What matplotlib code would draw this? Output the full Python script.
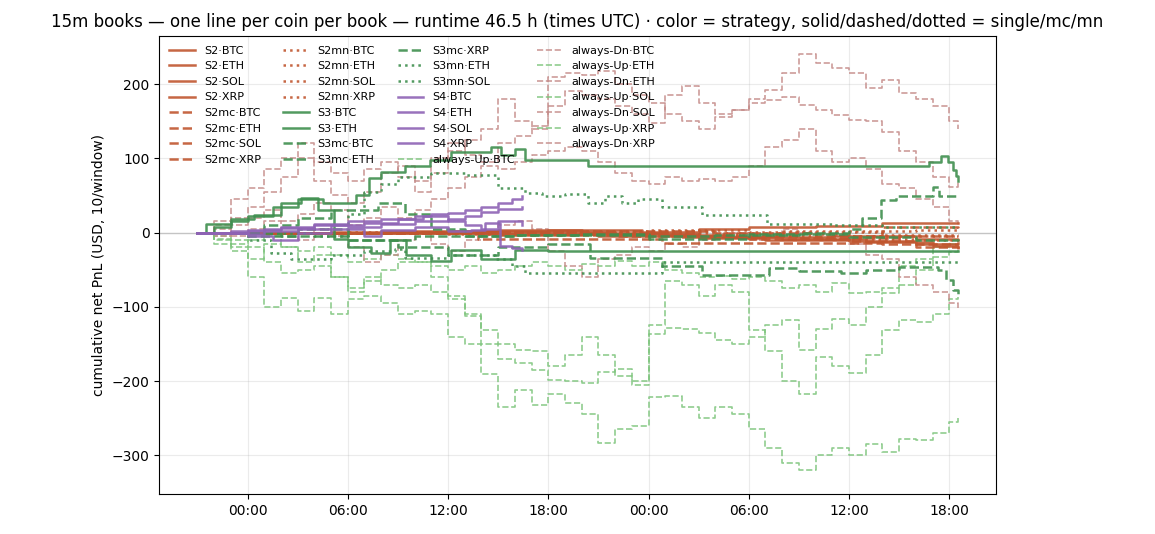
import matplotlib
matplotlib.use("Agg")
import matplotlib.pyplot as plt
import matplotlib.dates as mdates
import pandas as pd

# hours are counted from the first midnight shown on the axis
t0 = pd.Timestamp("2024-05-14 00:00")

# ---- always-Up / always-Dn books, read roughly once per hour ----
hrs = list(range(-3, 43)) + [42.5]

up_btc = [0, -10, -25, -60, -100, -88, -105, -88, -110, -90,
          -85, -95, -110, -105, -110, -140, -150, -190, -235, -212,
          -232, -218, -230, -245, -284, -265, -260, -222, -220, -235,
          -250, -235, -245, -265, -290, -310, -320, -300, -290, -300,
          -285, -295, -278, -280, -270, -255, -247]
dn_btc = [0, 15, 45, 60, 85, 100, 120, 95, 80, 70,
          85, 95, 75, 55, 80, 110, 125, 140, 180, 150,
          140, 210, 215, 212, 217, 200, 185, 175, 160, 150,
          140, 155, 165, 180, 192, 215, 240, 228, 222, 215,
          195, 205, 188, 180, 170, 150, 139]
up_eth = [0, -5, -20, -35, -15, -20, -40, -30, -60, -80,
          -65, -50, -40, -40, -60, -85, -110, -150, -170, -175,
          -185, -198, -200, -203, -188, -184, -200, -125, -65, -70,
          -85, -70, -80, -131, -160, -200, -218, -167, -180, -189,
          -165, -131, -118, -120, -110, -90, -87]
dn_eth = [0, 5, 20, 35, 55, 75, 100, 70, 50, 40,
          55, 80, 90, 70, 100, 120, 105, 95, 120, 130,
          143, 170, 190, 185, 180, 170, 160, 148, 185, 198,
          175, 160, 165, 175, 178, 183, 172, 165, 158, 152,
          150, 135, 110, 95, 75, 62, 71]
up_sol = [0, -15, -10, -20, -40, -55, -50, -45, -60, -75,
          -60, -70, -75, -70, -80, -90, -113, -131, -150, -158,
          -160, -180, -165, -140, -165, -193, -205, -136, -128, -130,
          -135, -145, -150, -140, -125, -118, -158, -130, -116, -125,
          -100, -82, -70, -50, -33, -26, -24]
dn_sol = [0, -5, 10, 20, 30, 15, 25, 40, 30, 10,
          20, 35, 20, 30, 45, 60, 75, 90, 85, 95,
          105, 110, 115, 110, 95, 80, 70, 65, 75, 70,
          72, 70, 75, 90, 115, 125, 139, 110, 95, 100,
          85, 65, 60, 45, 35, 15, 5]
up_xrp = [0, -8, -15, -10, -5, -20, -25, -20, -30, -40,
          -35, -30, -35, -40, -45, -50, -45, -55, -50, -45,
          -40, -45, -50, -42, -45, -38, -45, -40, -50, -55,
          -60, -58, -62, -60, -65, -75, -70, -80, -68, -82,
          -80, -75, -45, -35, -20, -15, -17]
dn_xrp = [0, 10, -5, 5, 15, 0, -10, 5, -5, -20,
          -40, -30, -10, 0, -15, -25, -10, 0, 10, 15,
          5, -25, -45, -60, -35, -30, -20, -25, -15, -20,
          -10, -5, 0, -10, -5, 5, 0, -10, -5, -15,
          -30, -35, -60, -70, -80, -95, -102]

# ---- strategy books: (hour, cumulative PnL) at each change ----
S2_BTC = [(-3, 0), (5, 1), (12, 2), (18, 3), (23.6, 1), (27, 5), (30, 7), (34, 9), (38, 13), (42.5, 13)]
S2_ETH = [(-3, 0), (10, -1), (16, 1), (22, -2), (27, -7), (31, -10), (36, -12), (40, -15), (42.5, -14)]
S2_SOL = [(-3, 0), (8, 2), (15, 3), (20, 0), (25, -3), (29, -6), (35, -5), (40, -8), (42.5, -10)]
S2_XRP = [(-3, 0), (6, -1), (14, -2), (21, -4), (26, -6), (32, -9), (37, -13), (41, -18), (42.5, -20)]
S2MC_BTC = [(-3, 0), (13.8, -9), (24.8, -14), (38, -15), (42.5, -15)]
S2MC_ETH = [(-3, 0), (9, 1), (20, 2), (28, 0), (34, -4), (38, 7), (42.5, 6)]
S2MC_SOL = [(-3, 0), (15, -3), (22, -5), (30, -8), (36, -12), (40, -20), (42.5, -22)]
S2MC_XRP = [(-3, 0), (12, 1), (19, -2), (27, -4), (33, -7), (39, -5), (42.5, -4)]
S2MN_BTC = [(-3, 0), (8, 1), (18, 2), (28, -2), (36, -4), (42.5, -4)]
S2MN_ETH = [(-3, 0), (12, -2), (22, -1), (32, 2), (40, 4), (42.5, 4)]
S2MN_SOL = [(-3, 0), (6, 1), (16, -1), (26, -5), (34, -8), (40, -10), (42.5, -10)]
S2MN_XRP = [(-3, 0), (14, 1), (24, 3), (30, 1), (38, -3), (42.5, -3)]

S3_BTC = [(-3, 0), (-2, 8), (-1, 15), (0, 22), (1.5, 35), (3, 45), (4.5, 40), (6.5, 50), (7.3, 74),
          (8, 82), (9.4, 89), (10.9, 98), (12.2, 108), (14.6, 115), (15.2, 104), (16, 113),
          (16.6, 98), (20.4, 89), (40.8, 95), (41.5, 103), (41.9, 95), (42.2, 84), (42.4, 76), (42.5, 69)]
S3_ETH = [(-3, 0), (-2.5, 12), (-1, 18), (0.4, 24), (2, 40), (3.2, 47), (4.2, 30), (5.2, -9), (6, -20),
          (7.4, -27), (8.5, -10), (9.5, -30), (11, -38), (12.2, -23), (14, -35), (16, -23), (18, -25), (42.5, -25)]
S3MC_BTC = [(-3, 0), (1, 10), (3, 20), (5, 30), (7.8, 40), (9.4, 25), (11, 5), (13, -5), (16, -3), (20, -2),
            (24, -5), (28, -3), (33, 0), (36, 5), (36.8, 20), (37.9, 44), (38.8, 49), (41, 61), (41.4, 49), (42.5, 49)]
S3MC_ETH = [(-3, 0), (0, -5), (3, 5), (6, -10), (9, -20), (12, -30), (15, -20), (18, -15), (20.5, -34),
            (24.8, -45), (27.2, -57), (31.2, -48), (33, -52), (35.5, -55), (37, -50), (39, -47),
            (41.3, -50), (41.8, -64), (42.2, -77), (42.5, -85)]
S3MC_XRP = [(-3, 0), (2, -5), (6, -10), (10, -5), (16, -3), (24, -8), (30, -2), (36, -6), (40, -10), (42.5, -8)]
S3MN_ETH = [(-3, 0), (4, -5), (6, 25), (7, 55), (8, 65), (9, 75), (11, 80), (13, 78), (15, 60), (16.6, 53),
            (17.6, 49), (19, 52), (20.4, 40), (21.4, 49), (22.4, 40), (23.4, 45), (24.8, 35), (27.2, 24),
            (31.1, 12), (35, 10), (38, 8), (42.5, 8)]
S3MN_SOL = [(-3, 0), (0, -10), (1.4, -27), (2.6, -36), (5, -30), (7, -25), (8.8, -22), (9.4, -34),
            (12, -30), (14.8, -36), (15.8, -45), (16.6, -54), (24.8, -39), (42.5, -39)]

S4_BTC = [(-3, 0), (-1, 2), (1, 5), (2, 8), (4, 12), (6, 15), (8, 18), (10, 22), (11, 25), (12, 27),
          (13, 30), (14, 35), (15, 40), (15.8, 45), (16.4, 49)]
S4_ETH = [(-3, 0), (0, 3), (2, 6), (4, 10), (6, 8), (8, 12), (10, 15), (12, 18), (13, 22), (14, 28),
          (15, 32), (16.4, 35)]
S4_SOL = [(-3, 0), (0, -2), (1, 2), (3, 5), (5, 10), (7, 13), (9, 18), (10.5, 22), (12, 15), (13, 10),
          (14, 5), (15, 15), (16.4, 10)]
S4_XRP = [(-3, 0), (0, -5), (1.5, -10), (3, 0), (5, 5), (7, -5), (8, 3), (10, 8), (12, 2), (13.4, 4),
          (14.2, 13), (15.1, -18), (15.8, -21), (16.4, -23)]

C_S2, C_S3, C_S4 = "#c0562f", "#3f8f4f", "#8e63b5"
C_UP, C_DN = "#7cc47b", "#c48a88"


def to_time(h):
    return t0 + pd.to_timedelta(h, unit="h")


fig = plt.figure(figsize=(11.55, 5.34), dpi=100)
ax = fig.add_axes([0.138, 0.075, 0.724, 0.858])

strategy_lines = [
    ("S2·BTC", S2_BTC, C_S2, "-"), ("S2·ETH", S2_ETH, C_S2, "-"),
    ("S2·SOL", S2_SOL, C_S2, "-"), ("S2·XRP", S2_XRP, C_S2, "-"),
    ("S2mc·BTC", S2MC_BTC, C_S2, "--"), ("S2mc·ETH", S2MC_ETH, C_S2, "--"),
    ("S2mc·SOL", S2MC_SOL, C_S2, "--"), ("S2mc·XRP", S2MC_XRP, C_S2, "--"),
    ("S2mn·BTC", S2MN_BTC, C_S2, ":"), ("S2mn·ETH", S2MN_ETH, C_S2, ":"),
    ("S2mn·SOL", S2MN_SOL, C_S2, ":"), ("S2mn·XRP", S2MN_XRP, C_S2, ":"),
    ("S3·BTC", S3_BTC, C_S3, "-"), ("S3·ETH", S3_ETH, C_S3, "-"),
    ("S3mc·BTC", S3MC_BTC, C_S3, "--"), ("S3mc·ETH", S3MC_ETH, C_S3, "--"),
    ("S3mc·XRP", S3MC_XRP, C_S3, "--"),
    ("S3mn·ETH", S3MN_ETH, C_S3, ":"), ("S3mn·SOL", S3MN_SOL, C_S3, ":"),
    ("S4·BTC", S4_BTC, C_S4, "-"), ("S4·ETH", S4_ETH, C_S4, "-"),
    ("S4·SOL", S4_SOL, C_S4, "-"), ("S4·XRP", S4_XRP, C_S4, "-"),
]

for label, pts, col, ls in strategy_lines:
    h = [p[0] for p in pts]
    v = [p[1] for p in pts]
    ax.step(to_time(h), v, where="post", color=col, ls=ls, lw=1.8,
            alpha=0.9, label=label, zorder=3)

always_lines = [
    ("BTC", up_btc, dn_btc), ("ETH", up_eth, dn_eth),
    ("SOL", up_sol, dn_sol), ("XRP", up_xrp, dn_xrp),
]
for coin, up, dn in always_lines:
    ax.step(to_time(hrs), up, where="post", color=C_UP, ls="--", lw=1.2,
            alpha=0.85, label="always-Up·" + coin, zorder=2)
    ax.step(to_time(hrs), dn, where="post", color=C_DN, ls="--", lw=1.2,
            alpha=0.85, label="always-Dn·" + coin, zorder=2)

ax.axhline(0, color="#cccccc", lw=1, zorder=1)
ax.grid(True, alpha=0.25)
ax.set_ylim(-352, 265)
ax.xaxis.set_major_locator(mdates.HourLocator(byhour=[0, 6, 12, 18]))
ax.xaxis.set_major_formatter(mdates.DateFormatter("%H:%M"))
ax.set_ylabel("cumulative net PnL (USD, 10/window)")
ax.set_title("15m books — one line per coin per book — runtime 46.5 h (times UTC) · "
             "color = strategy, solid/dashed/dotted = single/mc/mn", fontsize=12)
ax.legend(loc="upper left", ncol=4, fontsize=8, frameon=False, handlelength=2.3)

fig.savefig("out.png", dpi=100)
